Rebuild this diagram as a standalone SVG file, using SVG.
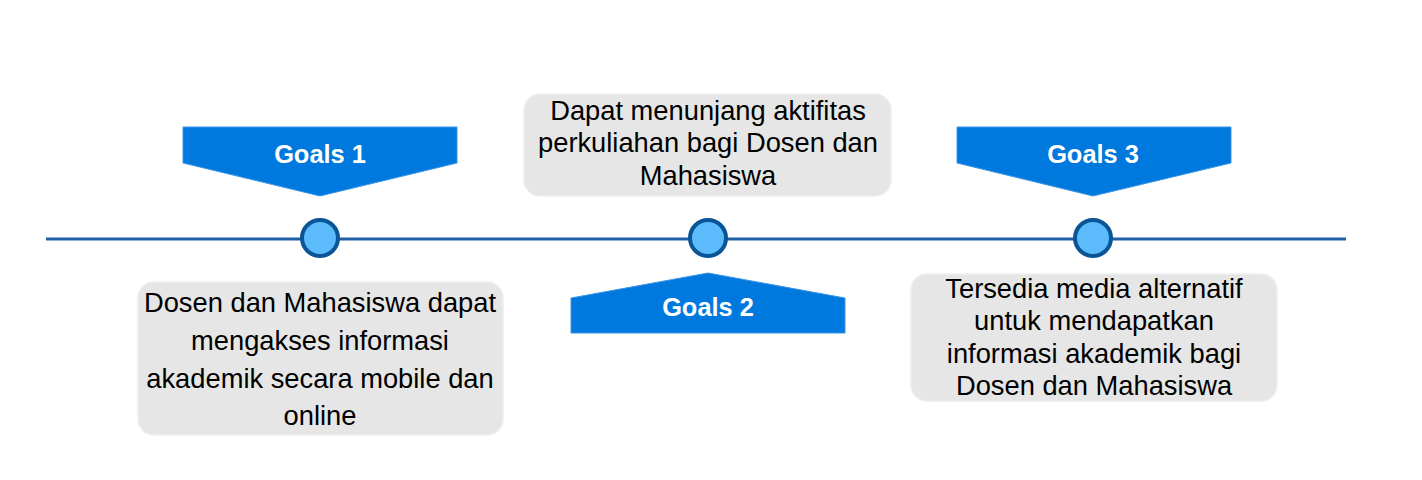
<svg xmlns="http://www.w3.org/2000/svg" width="1422" height="480" viewBox="0 0 1422 480">
<style>
.banner{fill:#0079DE;stroke:#3B95E6;stroke-width:1}
.blabel{font-family:"Liberation Sans",Arial,sans-serif;font-weight:bold;font-size:25.4px;fill:#FFFFFF;text-anchor:middle;dominant-baseline:central}
.box{fill:#E6E6E6;stroke:#EEEEEE;stroke-width:1.5}
.txt{font-family:"Liberation Sans",Arial,sans-serif;font-size:27.3px;fill:#000000;text-anchor:middle;dominant-baseline:central}
.dot{fill:#5CBBFB;stroke:#0A5595;stroke-width:4}
.axis{stroke:#1E5FA6;stroke-width:3;fill:none}
</style>
<rect width="1422" height="480" fill="#FFFFFF"/>
<g id="connectors">
<line class="axis" x1="46" y1="239" x2="1346" y2="239"/>
</g>
<g id="goal1">
<polygon class="banner" points="183,127 457,127 457,163 320,196 183,163"/>
<text class="blabel" x="320" y="154">Goals 1</text>
</g>
<g id="dot1"><circle class="dot" cx="320" cy="238" r="18"/></g>
<g id="box1">
<rect class="box" x="138" y="282" width="365" height="153" rx="16"/>
<text class="txt" x="320" y="302">Dosen dan Mahasiswa dapat</text>
<text class="txt" x="320" y="340">mengakses informasi</text>
<text class="txt" x="320" y="378">akademik secara mobile dan</text>
<text class="txt" x="320" y="415">online</text>
</g>
<g id="box2">
<rect class="box" x="524" y="94" width="367" height="102" rx="16"/>
<text class="txt" x="708" y="110">Dapat menunjang aktifitas</text>
<text class="txt" x="708" y="142">perkuliahan bagi Dosen dan</text>
<text class="txt" x="708" y="175">Mahasiswa</text>
</g>
<g id="dot2"><circle class="dot" cx="708" cy="238" r="18"/></g>
<g id="goal2">
<polygon class="banner" points="708,273 845,298 845,333 571,333 571,298"/>
<text class="blabel" x="708" y="307">Goals 2</text>
</g>
<g id="goal3">
<polygon class="banner" points="957,127 1231,127 1231,163 1093,196 957,163"/>
<text class="blabel" x="1093" y="154">Goals 3</text>
</g>
<g id="dot3"><circle class="dot" cx="1093" cy="238" r="18"/></g>
<g id="box3">
<rect class="box" x="911" y="274" width="366" height="127" rx="16"/>
<text class="txt" x="1094" y="288">Tersedia media alternatif</text>
<text class="txt" x="1094" y="320">untuk mendapatkan</text>
<text class="txt" x="1094" y="353">informasi akademik bagi</text>
<text class="txt" x="1094" y="385">Dosen dan Mahasiswa</text>
</g>
</svg>
